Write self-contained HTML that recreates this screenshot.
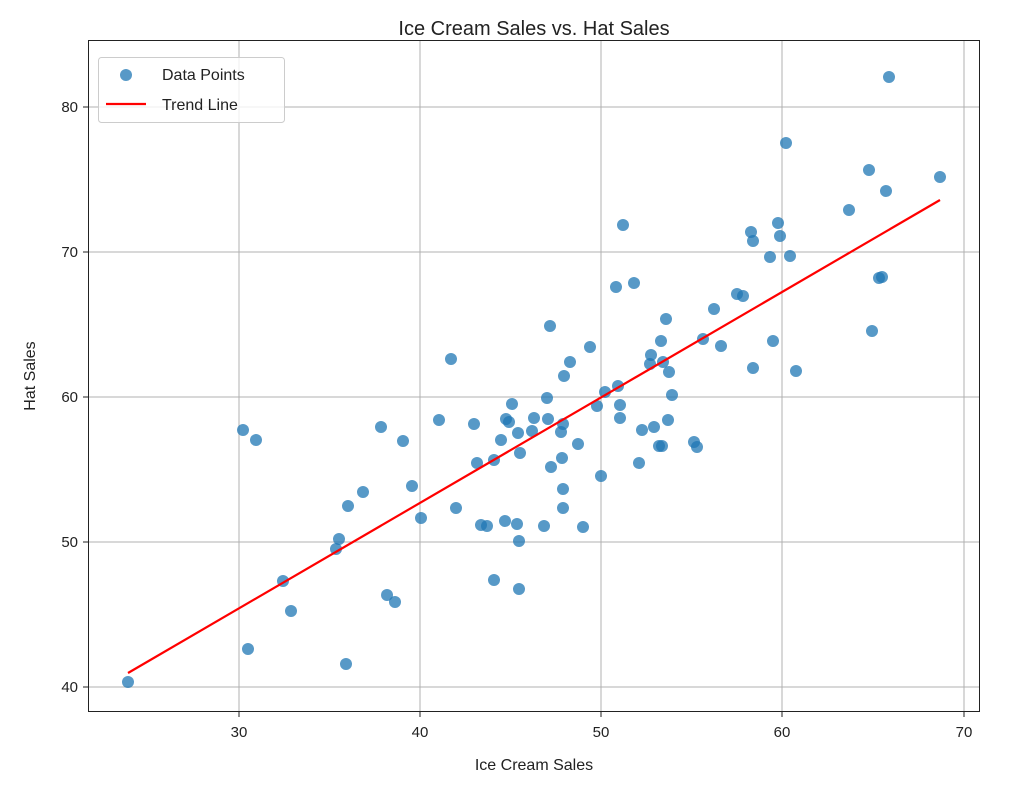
<!DOCTYPE html>
<html><head><meta charset="utf-8"><style>
body{margin:0;background:#fff}
svg text{font-family:"Liberation Sans","DejaVu Sans",sans-serif;fill:#222}
</style></head><body>
<svg width="1023" height="780" xmlns="http://www.w3.org/2000/svg">
<rect width="1023" height="780" fill="#fff"/>
<text x="534" y="35" font-size="20" text-anchor="middle">Ice Cream Sales vs. Hat Sales</text>
<g stroke="#b0b0b0" stroke-width="1">
<line x1="239" y1="40" x2="239" y2="712"/><line x1="420" y1="40" x2="420" y2="712"/>
<line x1="601" y1="40" x2="601" y2="712"/><line x1="782" y1="40" x2="782" y2="712"/>
<line x1="964" y1="40" x2="964" y2="712"/>
<line x1="88" y1="107" x2="980" y2="107"/><line x1="88" y1="252" x2="980" y2="252"/>
<line x1="88" y1="397" x2="980" y2="397"/><line x1="88" y1="542" x2="980" y2="542"/>
<line x1="88" y1="687" x2="980" y2="687"/>
</g>
<g fill="#1f77b4" fill-opacity="0.75">
<circle cx="128" cy="682" r="6"/><circle cx="243" cy="430" r="6"/><circle cx="256" cy="440" r="6"/><circle cx="248" cy="649" r="6"/><circle cx="283" cy="581" r="6"/><circle cx="291" cy="611" r="6"/><circle cx="336" cy="549" r="6"/><circle cx="339" cy="539" r="6"/><circle cx="346" cy="664" r="6"/><circle cx="348" cy="506" r="6"/><circle cx="363" cy="492" r="6"/><circle cx="381" cy="427" r="6"/><circle cx="387" cy="595" r="6"/><circle cx="395" cy="602" r="6"/><circle cx="403" cy="441" r="6"/><circle cx="412" cy="486" r="6"/><circle cx="421" cy="518" r="6"/><circle cx="439" cy="420" r="6"/><circle cx="451" cy="359" r="6"/><circle cx="456" cy="508" r="6"/><circle cx="474" cy="424" r="6"/><circle cx="477" cy="463" r="6"/><circle cx="481" cy="525" r="6"/><circle cx="487" cy="526" r="6"/><circle cx="494" cy="580" r="6"/><circle cx="494" cy="460" r="6"/><circle cx="501" cy="440" r="6"/><circle cx="506" cy="419" r="6"/><circle cx="509" cy="422" r="6"/><circle cx="512" cy="404" r="6"/><circle cx="505" cy="521" r="6"/><circle cx="517" cy="524" r="6"/><circle cx="518" cy="433" r="6"/><circle cx="520" cy="453" r="6"/><circle cx="519" cy="541" r="6"/><circle cx="519" cy="589" r="6"/><circle cx="532" cy="431" r="6"/><circle cx="534" cy="418" r="6"/><circle cx="544" cy="526" r="6"/><circle cx="547" cy="398" r="6"/><circle cx="548" cy="419" r="6"/><circle cx="550" cy="326" r="6"/><circle cx="551" cy="467" r="6"/><circle cx="561" cy="432" r="6"/><circle cx="562" cy="458" r="6"/><circle cx="563" cy="424" r="6"/><circle cx="563" cy="489" r="6"/><circle cx="563" cy="508" r="6"/><circle cx="564" cy="376" r="6"/><circle cx="570" cy="362" r="6"/><circle cx="578" cy="444" r="6"/><circle cx="583" cy="527" r="6"/><circle cx="590" cy="347" r="6"/><circle cx="597" cy="406" r="6"/><circle cx="601" cy="476" r="6"/><circle cx="605" cy="392" r="6"/><circle cx="616" cy="287" r="6"/><circle cx="618" cy="386" r="6"/><circle cx="620" cy="405" r="6"/><circle cx="620" cy="418" r="6"/><circle cx="623" cy="225" r="6"/><circle cx="634" cy="283" r="6"/><circle cx="639" cy="463" r="6"/><circle cx="642" cy="430" r="6"/><circle cx="650" cy="364" r="6"/><circle cx="651" cy="355" r="6"/><circle cx="654" cy="427" r="6"/><circle cx="659" cy="446" r="6"/><circle cx="662" cy="446" r="6"/><circle cx="661" cy="341" r="6"/><circle cx="663" cy="362" r="6"/><circle cx="666" cy="319" r="6"/><circle cx="668" cy="420" r="6"/><circle cx="669" cy="372" r="6"/><circle cx="672" cy="395" r="6"/><circle cx="694" cy="442" r="6"/><circle cx="697" cy="447" r="6"/><circle cx="703" cy="339" r="6"/><circle cx="714" cy="309" r="6"/><circle cx="721" cy="346" r="6"/><circle cx="737" cy="294" r="6"/><circle cx="743" cy="296" r="6"/><circle cx="751" cy="232" r="6"/><circle cx="753" cy="241" r="6"/><circle cx="753" cy="368" r="6"/><circle cx="770" cy="257" r="6"/><circle cx="773" cy="341" r="6"/><circle cx="778" cy="223" r="6"/><circle cx="780" cy="236" r="6"/><circle cx="786" cy="143" r="6"/><circle cx="790" cy="256" r="6"/><circle cx="796" cy="371" r="6"/><circle cx="849" cy="210" r="6"/><circle cx="869" cy="170" r="6"/><circle cx="872" cy="331" r="6"/><circle cx="879" cy="278" r="6"/><circle cx="882" cy="277" r="6"/><circle cx="886" cy="191" r="6"/><circle cx="889" cy="77" r="6"/><circle cx="940" cy="177" r="6"/>
</g>
<line x1="128" y1="673" x2="940" y2="200" stroke="#ff0000" stroke-width="2.2"/>
<rect x="88.5" y="40.5" width="891" height="671" fill="none" stroke="#222" stroke-width="1"/>
<g stroke="#222"><line x1="239" y1="712" x2="239" y2="717"/><line x1="420" y1="712" x2="420" y2="717"/><line x1="601" y1="712" x2="601" y2="717"/><line x1="782" y1="712" x2="782" y2="717"/><line x1="964" y1="712" x2="964" y2="717"/>
<line x1="83" y1="107" x2="88" y2="107"/><line x1="83" y1="252" x2="88" y2="252"/><line x1="83" y1="397" x2="88" y2="397"/><line x1="83" y1="542" x2="88" y2="542"/><line x1="83" y1="687" x2="88" y2="687"/></g>
<g font-size="15" text-anchor="middle"><text x="239" y="737">30</text><text x="420" y="737">40</text><text x="601" y="737">50</text><text x="782" y="737">60</text><text x="964" y="737">70</text></g>
<g font-size="15" text-anchor="end"><text x="78" y="112">80</text><text x="78" y="257">70</text><text x="78" y="402">60</text><text x="78" y="547">50</text><text x="78" y="692">40</text></g>
<text x="534" y="770" font-size="16" text-anchor="middle">Ice Cream Sales</text>
<text x="35" y="376" font-size="16" text-anchor="middle" transform="rotate(-90 35 376)">Hat Sales</text>
<rect x="98.5" y="57.5" width="186" height="65" rx="3" fill="#fff" fill-opacity="0.8" stroke="#ccc"/>
<circle cx="126" cy="75" r="6" fill="#1f77b4" fill-opacity="0.75"/>
<text x="162" y="80" font-size="16">Data Points</text>
<line x1="106" y1="104" x2="146" y2="104" stroke="#ff0000" stroke-width="2.2"/>
<text x="162" y="110" font-size="16">Trend Line</text>
</svg>
</body></html>
